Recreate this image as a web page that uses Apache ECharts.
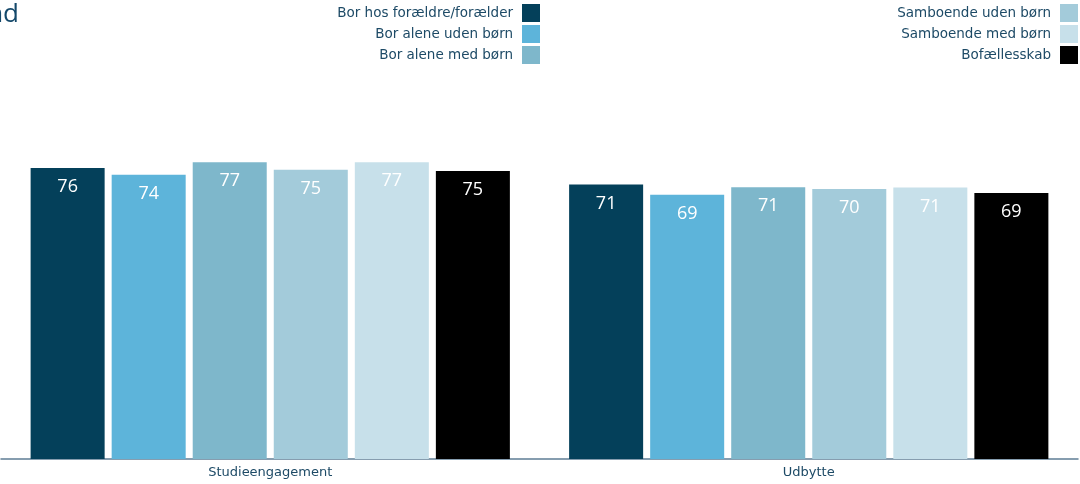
<!DOCTYPE html>
<html><head><meta charset="utf-8">
<script src="https://cdn.jsdelivr.net/npm/echarts@6/dist/echarts.min.js"></script>
<style>html,body{margin:0;padding:0;background:#fff}#c{width:1080px;height:484px}</style>
</head><body><div id="c"></div>
<script>
const categories = ['Studieengagement', 'Udbytte'];
const seriesNames = ['Bor hos forældre/forælder', 'Bor alene uden børn', 'Bor alene med børn', 'Samboende uden børn', 'Samboende med børn', 'Bofællesskab'];
const borHos = [75.7, 71.4];
const aleneUden = [73.9, 68.7];
const aleneMed = [77.2, 70.7];
const samboUden = [75.2, 70.2];
const samboMed = [77.2, 70.6];
const bofaelles = [74.9, 69.2];
const colors = ['#04405a', '#5db4da', '#7eb7cb', '#a3cbda', '#c7e0ea', '#000000'];
const allData = [borHos, aleneUden, aleneMed, samboUden, samboMed, bofaelles];
const txt = '#1d4a66';
const font = 'DejaVu Sans';

const legendBase = {orient: 'vertical', top: 4, align: 'right', itemWidth: 18, itemHeight: 18, itemGap: 3, icon: 'rect', padding: 0,
  textStyle: {color: txt, fontFamily: font, fontSize: 13.5, padding: [0, 4, 0, 0]}};

const chart = echarts.init(document.getElementById('c'));
chart.setOption({
  animation: false,
  color: colors,
  graphic: [{type: 'text', x: 19, y: 2, style: {text: 'Boligstand', align: 'right', fill: '#14486a', font: '26px "Open Sans"'}}],
  legend: [
    Object.assign({data: seriesNames.slice(0, 3), right: 540}, legendBase),
    Object.assign({data: seriesNames.slice(3), right: 2}, legendBase)
  ],
  grid: {left: 1, right: 2, top: 74.5, bottom: 25, containLabel: false},
  xAxis: {type: 'category', data: categories, axisTick: {show: false},
    axisLine: {lineStyle: {color: '#5f7d95', width: 1.5}},
    axisLabel: {color: txt, fontFamily: font, fontSize: 13, margin: 7}},
  yAxis: {type: 'value', min: 0, max: 100, show: false, splitLine: {show: false}},
  series: allData.map((d, i) => ({
    name: seriesNames[i], type: 'bar', data: d, barGap: '9.5%', barCategoryGap: '11%',
    label: {show: true, position: 'insideTop', distance: 10, color: '#ffffff', fontFamily: 'Open Sans', fontSize: 18,
      formatter: p => Math.round(p.value)}
  }))
});
</script></body></html>
